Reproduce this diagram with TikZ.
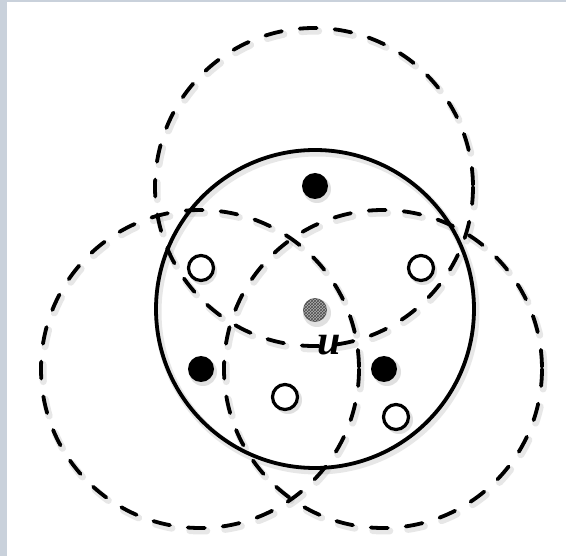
\documentclass[tikz,border=0pt]{standalone}
\usepackage{fontspec}
\newfontfamily\labelfont{Liberation Serif}
\usetikzlibrary{patterns}
\definecolor{framebg}{HTML}{C9D1DB}
\definecolor{shade}{HTML}{BBBBBB}
\tikzset{
  ring/.style={line width=3.8pt},
  dashring/.style={ring, line cap=round, dash pattern=on 17pt off 18pt},
  ringshadow/.style={line width=7pt, draw=shade, opacity=0.35},
  blackdot/.style={circle, fill=black, minimum size=26pt, inner sep=0pt},
  whitedot/.style={circle, fill=white, draw=black, line width=3.2pt, minimum size=25pt, inner sep=0pt},
  dotshadow/.style={circle, fill=shade, opacity=0.45, minimum size=28pt, inner sep=0pt},
}
\begin{document}
\begin{tikzpicture}[x=1pt,y=-1pt]
\useasboundingbox (0,0) rectangle (566,556);
% frame background
\fill[framebg] (0,0) rectangle (566,556);
\fill[white] (7,2) rectangle (566,556);
% shadows of circles
\draw[ringshadow, line cap=round, dash pattern=on 17pt off 18pt] (316,190) circle (159);
\draw[ringshadow, line cap=round, dash pattern=on 17pt off 18pt] (202,372) circle (159);
\draw[ringshadow, line cap=round, dash pattern=on 17pt off 18pt] (385,372) circle (159);
\draw[ringshadow] (317,312) circle (159);
% dashed circles
\draw[dashring] (314,187) circle (159);
\draw[dashring] (200,369) circle (159);
\draw[dashring] (383,369) circle (159);
% solid circle
\draw[ring] (315,309) circle (159);
% dot shadows
\foreach \p in {(317,189),(203,271),(423,271),(203,372),(387,372),(288,400),(399,420),(317,313)}
  \node[dotshadow] at \p {};
% dots
\node[blackdot] (b1) at (315,186) {};
\node[whitedot] (w1) at (201,268) {};
\node[whitedot] (w2) at (421,268) {};
\node[blackdot] (b2) at (201,369) {};
\node[blackdot] (b3) at (384,369) {};
\node[whitedot] (w3) at (285,397) {};
\node[whitedot] (w4) at (396,417) {};
\node[circle, minimum size=23pt, inner sep=0pt, fill=gray!60, draw=gray!80!black, line width=0.8pt,
      postaction={pattern=crosshatch, pattern color=black!70}] (c) at (315,310) {};
\node (u) at (329,345) {\labelfont\fontsize{42}{42}\selectfont\bfseries\itshape u};
\end{tikzpicture}
\end{document}
